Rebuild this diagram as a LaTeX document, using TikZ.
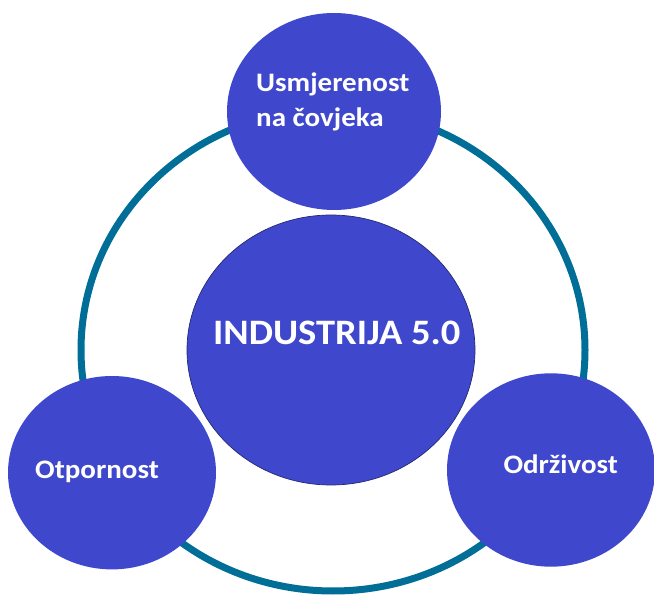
\documentclass[tikz,border=0pt]{standalone}
\usepackage{fontspec}
\usepackage{graphicx}
\setmainfont{Carlito}
\definecolor{circblue}{RGB}{63,72,204}
\definecolor{ringteal}{RGB}{0,110,150}
\begin{document}
\begin{tikzpicture}[x=1pt,y=-1pt,
  bubble/.style={fill=circblue,draw=none},
  lbl/.style={text=white,font=\bfseries,inner sep=0pt,anchor=base west}]
\useasboundingbox (0,0) rectangle (654,612);
% ring
\draw[ringteal,line width=7pt] (333,350) ellipse [x radius=252, y radius=241];
% centre
\fill[bubble,draw=black!45!circblue,line width=0.7pt] (331,350) ellipse [x radius=144, y radius=135];
% outer bubbles
\fill[bubble] (334,111.5) ellipse [x radius=107, y radius=98.5];
\fill[bubble] (112,472.7) ellipse [x radius=104, y radius=96.7];
\fill[bubble] (551,470) ellipse [x radius=104, y radius=96.7];
% labels
\node[lbl,font=\bfseries\fontsize{38.5}{40}\selectfont] (center) at (213,345) {\scalebox{1}[0.93]{INDUSTRIJA 5.0}};
\node[lbl,font=\bfseries\fontsize{29}{31}\selectfont] (top1) at (256,91.7) {\scalebox{1}[0.92]{Usmjerenost}};
\node[lbl,font=\bfseries\fontsize{29}{31}\selectfont] (top2) at (256,126.7) {\scalebox{1}[0.92]{na čovjeka}};
\node[lbl,font=\bfseries\fontsize{29}{31}\selectfont] (left) at (35,478.3) {\scalebox{1}[0.92]{Otpornost}};
\node[lbl,font=\bfseries\fontsize{29}{31}\selectfont] (right) at (503.3,473.3) {\scalebox{1}[0.92]{Održivost}};
\end{tikzpicture}
\end{document}
